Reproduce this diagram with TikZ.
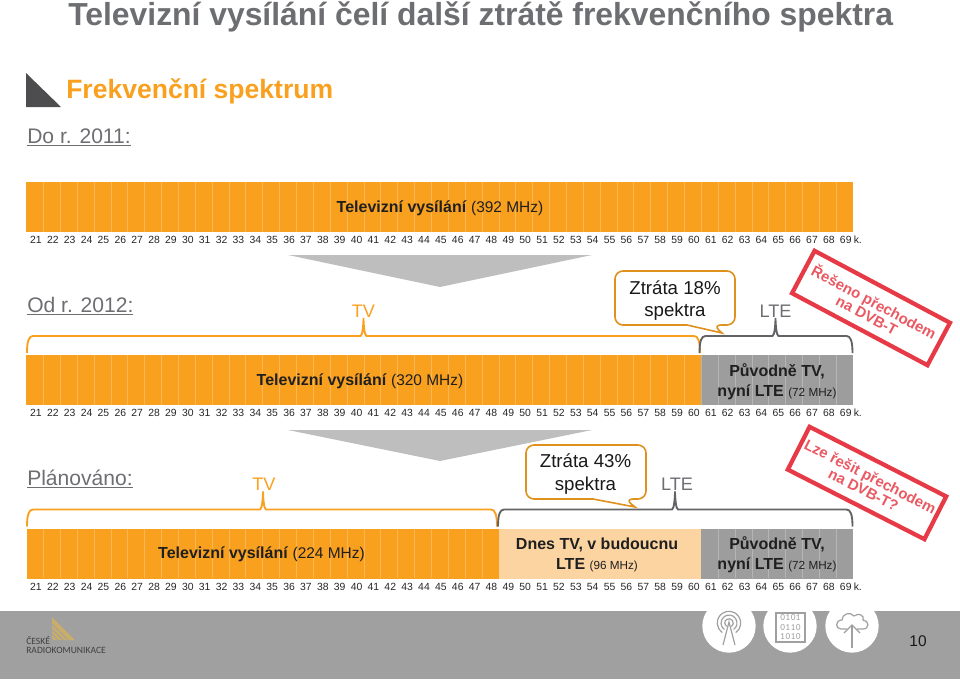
\documentclass[tikz,border=0pt]{standalone}
\usepackage{fontspec}
\setmainfont{Liberation Sans}
\newfontfamily\logofont{Carlito}
\usetikzlibrary{positioning,calc}
\definecolor{specorange}{HTML}{F9A01F}
\definecolor{speclight}{HTML}{FBD4A2}
\definecolor{specgray}{HTML}{9D9D9D}
\definecolor{textgray}{HTML}{6D6E71}
\definecolor{footgray}{HTML}{A0A0A0}
\definecolor{arrowgray}{HTML}{BEBEBE}
\definecolor{darkgray}{HTML}{4D4D4F}
\definecolor{bracegray}{HTML}{626366}
\definecolor{stampred}{HTML}{E63B46}
\definecolor{logogold}{HTML}{C9AE6B}
\newcommand{\fsz}[1]{\fontsize{#1}{#1}\selectfont}
\tikzset{
  barnode/.style={minimum height=37.5pt, inner sep=0pt, outer sep=0pt},
  heading/.style={anchor=base west, inner sep=0pt, text=textgray, font=\fsz{15.8}},
  chanlabel/.style={inner sep=0pt, text=black!85, font=\fsz{7.8}},
  bartext/.style={inner sep=0pt, align=center, text=black!88, font=\fsz{12}, execute at begin node=\setlength{\baselineskip}{14.8pt}},
  losstext/.style={inner sep=0pt, align=center, text=black!90, font=\fsz{14}, execute at begin node=\setlength{\baselineskip}{16.6pt}},
  bubble/.style={draw=specorange!90!black, fill=white, line width=1.2pt, rounded corners=6pt},
  bracetext/.style={inner sep=0pt, anchor=base, font=\fsz{13.6}},
  stamp/.style={draw=stampred, line width=3.2pt, inner sep=0pt, minimum width=115pt, minimum height=36pt, align=center, text=stampred!85!white, font=\bfseries\fsz{11.2}},
  icon/.style={draw=footgray, line width=0.9pt},
}
\newcommand{\specbrace}[5]{% colour, x1, xm, x2, y
  \draw[#1, line width=1.4pt] (#2,#5+17) .. controls +(0,-12) and +(-4,0) .. (#2+6,#5) -- (#3-3,#5)
    .. controls +(2,0) and +(0,6) .. (#3,#5-18) .. controls +(0,6) and +(-2,0) .. (#3+3,#5)
    -- (#4-6,#5) .. controls +(4,0) and +(0,-12) .. (#4,#5+17);}
\begin{document}
\begin{tikzpicture}[x=0.75pt,y=-0.75pt]
  \useasboundingbox (0,0) rectangle (960,679);

  % headings
  \node[anchor=base west, inner sep=0pt, text=textgray, font=\bfseries\fsz{23.9}] (title) at (68,25.5)
    {Televizní vysílání čelí další ztrátě frekvenčního spektra};
  \fill[darkgray] (26,73) -- (61,107) -- (26,107) -- cycle;
  \node[anchor=base west, inner sep=0pt, text=specorange, font=\bfseries\fsz{19.9}] (section) at (66,98.5) {Frekvenční spektrum};
  \node[heading] (dotext) at (27,143) {\underline{Do r. 2011:}};
  \node[heading] (odtext) at (27,312) {\underline{Od r. 2012:}};
  \node[heading] (plantext) at (27,485) {\underline{Plánováno:}};

  % bars
  \node[barnode, fill=specorange, minimum width=620pt] (tvbara) at (439.75,207) {};
  \node[barnode, fill=specorange, minimum width=506.2pt] (tvbarb) at (363.75,380) {};
  \node[barnode, fill=specgray, minimum width=114pt] (ltebarb) at (777,380) {};
  \node[barnode, fill=specorange, minimum width=354pt] (tvbarc) at (262.5,553.5) {};
  \node[barnode, fill=speclight, minimum width=152pt] (newbarc) at (600,553.5) {};
  \node[barnode, fill=specgray, minimum width=114pt] (ltebarc) at (777,553.5) {};

  % channel separators
  \foreach \i in {1,...,48} {
    \draw[white, opacity=.25, line width=.5pt] (26.5+16.87*\i,182) -- (26.5+16.87*\i,232);
  }
  \foreach \i in {1,...,48} {
    \draw[white, opacity=.25, line width=.5pt] (26.5+16.87*\i,355) -- (26.5+16.87*\i,405);
  }
  \foreach \i in {1,...,27,41,42,...,48} {
    \draw[white, opacity=.25, line width=.5pt] (26.5+16.87*\i,529) -- (26.5+16.87*\i,578);
  }

  % channel numbers
  \foreach \y in {240,413,587} {
    \foreach \c [evaluate=\c as \xc using {36+16.87*(\c-21)}] in {21,...,69} {
      \node[chanlabel] at (\xc,\y) {\c};
    }
    \node[chanlabel, anchor=west] at (853.5,\y) {k.};
  }

  % bar texts
  \node[bartext] (tvatext) at (440,208) {\textbf{Televizní vysílání} {\fsz{11.6}(392 MHz)}};
  \node[bartext] (tvbtext) at (360,381) {\textbf{Televizní vysílání} {\fsz{11.6}(320 MHz)}};
  \node[bartext] (tvctext) at (261.5,554) {\textbf{Televizní vysílání} {\fsz{11.6}(224 MHz)}};
  \node[bartext] (ltebtext) at (777,382) {\textbf{Původně TV,}\\\textbf{nyní LTE} {\fsz{8.8}(72 MHz)}};
  \node[bartext] (ltectext) at (777,555) {\textbf{Původně TV,}\\\textbf{nyní LTE} {\fsz{8.8}(72 MHz)}};
  \node[bartext] (newtext) at (597,555) {\textbf{Dnes TV, v budoucnu}\\\textbf{LTE} {\fsz{8.8}(96 MHz)}};

  % grey arrows
  \fill[arrowgray] (288,255) -- (592,255) -- (440,287) -- cycle;
  \fill[arrowgray] (288,430) -- (592,430) -- (440,461) -- cycle;

  % braces
  \specbrace{specorange}{27}{363.5}{700}{336}
  \specbrace{bracegray}{699.5}{775.5}{852.5}{336}
  \specbrace{specorange}{27}{263}{497}{509.5}
  \specbrace{bracegray}{498}{675}{852.5}{509.5}
  \node[bracetext, text=specorange] (tvb) at (363.5,317) {TV};
  \node[bracetext, text=textgray] (lteb) at (775.5,317) {LTE};
  \node[bracetext, text=specorange] (tvc) at (264,490) {TV};
  \node[bracetext, text=textgray] (ltec) at (677,490) {LTE};

  % loss bubbles
  \draw[bubble] (615,271) -- (735,271) -- (735,325) -- (713,325) [sharp corners] -- (722,333) -- (687,325)
    [rounded corners=6pt] -- (615,325) -- cycle;
  \node[losstext] (lossb) at (675,300.5) {Ztráta 18\%\\spektra};
  \draw[bubble] (526,445) -- (646,445) -- (646,499) -- (625,499) [sharp corners] -- (635,507) -- (593,499)
    [rounded corners=6pt] -- (526,499) -- cycle;
  \node[losstext] (lossc) at (585.5,474) {Ztráta 43\%\\spektra};

  % stamps
  \node[stamp, rotate=-28] (stampb) at (871,308) {Řešeno přechodem\\na DVB-T};
  \node[stamp, rotate=-27] (stampc) at (867,483) {Lze řešit přechodem\\na DVB-T?};

  % footer
  \fill[footgray] (0,611) rectangle (960,679);
  \foreach \x in {729,790,852} {
    \fill[white] (\x,626) circle[radius=20pt];
  }
  % logo
  \fill[logogold] (52,617) -- (75,640) -- (52,640) -- cycle;
  \foreach \s in {0,5,10,15} {
    \draw[footgray, line width=.6pt] (52,624+\s) -- (52+16-\s,640);
  }
  \node[anchor=base west, inner sep=0pt, align=left, text=black!75, font=\logofont\fsz{7.2}] (logotext) at (26,644) {ČESKÉ};
  \node[anchor=base west, inner sep=0pt, text=black!75, font=\logofont\fsz{7.2}] (logoname) at (26,653) {RADIOKOMUNIKACE};
  % antenna
  \foreach \r in {3.2,6,8.8} {
    \draw[icon] ([shift={(-55:\r pt)}]729,623) arc[start angle=-55, end angle=235, radius=\r pt];
  }
  \draw[icon] (723,645) -- (729,622) -- (735,645);
  % data sheet
  \draw[icon] (776,613) rectangle (805,642);
  \node[inner sep=0pt, align=center, text=footgray, font=\ttfamily\fsz{7.4}, execute at begin node=\setlength{\baselineskip}{6.8pt}] (bits) at (790.5,627) {0101\\0110\\1010};
  % cloud
  \draw[icon] (847,629) -- (841,629) .. controls (835,629) and (835,620) .. (842,620)
    .. controls (842,614) and (850,611) .. (854,616) .. controls (859,612) and (865,616) .. (863,620)
    .. controls (869,620) and (870,629) .. (863,629) -- (857,629);
  \draw[icon] (852,648) -- (852,625);
  \draw[icon] (844,633) -- (852,625) -- (860,633);
  \node[inner sep=0pt, text=black!90, font=\fsz{11.6}] (pageno) at (918,641) {10};
\end{tikzpicture}
\end{document}
